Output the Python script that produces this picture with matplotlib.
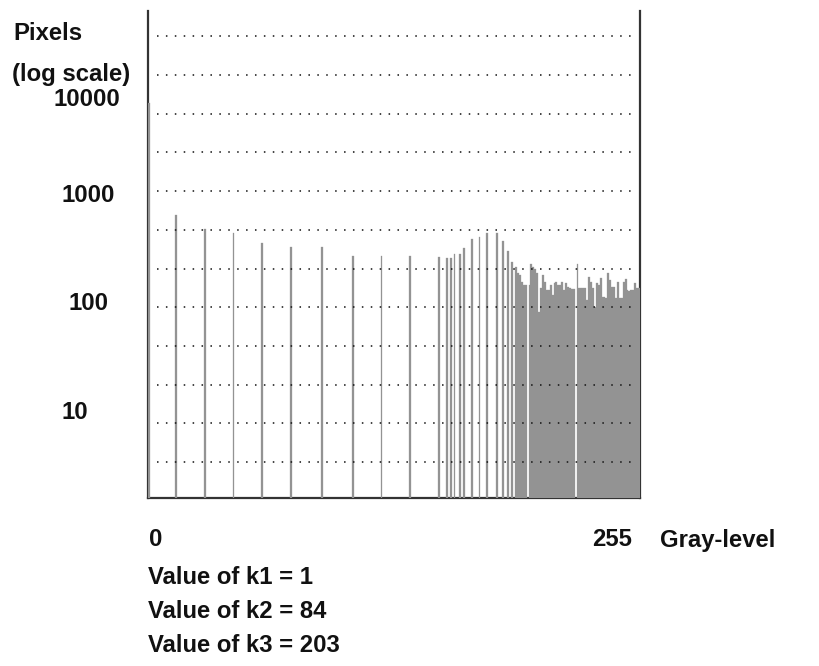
#!/usr/bin/env python3
"""
Gray-level histogram on a log scale with the k1/k2/k3 threshold values.
"""
import numpy as np
import matplotlib
matplotlib.use('Agg')
import matplotlib.pyplot as plt
from matplotlib.transforms import blended_transform_factory, offset_copy

# Isolated gray levels (quantised part of the image)
sparse_levels = [0, 14, 29, 44, 59, 74, 90, 106, 121, 136, 151,
                 155, 157, 159, 162, 164, 168, 172, 176, 181, 184, 187, 189, 191]
sparse_counts = [7440, 688, 511, 469, 379, 348, 348, 288, 288, 288, 282,
                 276, 276, 300, 300, 341, 413, 431, 469, 469, 395, 320, 253, 230]

# Continuous bright part, gray levels 192..255
dense_start = 192
dense_counts = [200, 192, 166, 155, 155, 0, 155, 243, 230, 218,
                200, 87, 146, 192, 166, 140, 140, 155, 126, 162,
                166, 155, 155, 166, 140, 162, 149, 146, 143, 143,
                0, 243, 146, 146, 146, 146, 113, 186, 166, 146,
                97, 162, 155, 180, 120, 120, 118, 200, 173, 149,
                149, 118, 166, 118, 118, 166, 177, 140, 137, 140,
                140, 162, 146, 146]

tick_values = [10, 100, 1000, 10000]
k_values = [1, 84, 203]

W, H = 820, 666
FONT = dict(family=['Liberation Sans', 'DejaVu Sans'], weight='bold', size=17.2, color='#111111')
BAR_COLOR = '#939393'
LINE_COLOR = '#333333'


def px(x, y):
    # pixel position -> figure fraction
    return x / W, 1 - y / H


def main():
    counts = np.zeros(256)
    counts[sparse_levels] = sparse_counts
    counts[dense_start:dense_start + len(dense_counts)] = dense_counts
    levels = np.arange(256)
    nz = counts > 0

    fig = plt.figure(figsize=(W / 100, H / 100), dpi=100)
    fig.patch.set_facecolor('white')
    ax = fig.add_axes([148 / W, (H - 498) / H, 492 / W, 487 / H])
    ax.set_yscale('log')
    ax.set_xlim(-0.5, 255.5)
    ax.set_ylim(1.68, 52600)

    ax.bar(levels[nz], counts[nz], width=1.0, color=BAR_COLOR,
           edgecolor=BAR_COLOR, linewidth=0.2, zorder=4)

    # dotted horizontal guides
    for k in range(12):
        f = (36 + 38.7 * k) / 487
        ax.plot([0.0173, 0.982], [f, f], transform=ax.transAxes,
                ls=(0, (1, 4.83)), lw=1.1, color='#111111', zorder=5)

    for side in ('left', 'right', 'bottom'):
        ax.spines[side].set_color(LINE_COLOR)
        ax.spines[side].set_linewidth(1.6)
        ax.spines[side].set_zorder(2)
    ax.spines['top'].set_visible(False)
    ax.tick_params(which='both', length=0, labelleft=False, labelbottom=False)
    ax.set_xticks([])
    ax.yaxis.set_minor_locator(matplotlib.ticker.NullLocator())
    ax.yaxis.set_major_locator(matplotlib.ticker.NullLocator())

    # decade labels; the top one is nudged down clear of the axis caption
    trans = blended_transform_factory(fig.transFigure, ax.transData)
    label_x = [74.5, 88.5, 88.5, 86.5]
    label_dy = [2, 2, 2, -10]
    for v, lx, dy in zip(tick_values, label_x, label_dy):
        t = offset_copy(trans, fig=fig, y=dy, units='dots')
        ax.text(lx / W, v, f'{v}', transform=t, ha='center', va='center',
                clip_on=False, **FONT)

    fig.text(*px(13, 33), 'Pixels', ha='left', va='center', **FONT)
    fig.text(*px(12, 75), '(log scale)', ha='left', va='center', **FONT)

    fig.text(*px(149, 540), '0', ha='left', va='center', **FONT)
    fig.text(*px(632, 540), '255', ha='right', va='center', **FONT)
    fig.text(*px(660, 540), 'Gray-level', ha='left', va='center', **FONT)

    for i, k in enumerate(k_values):
        fig.text(*px(148, 578 + 34 * i), f'Value of k{i + 1} = {k}',
                 ha='left', va='center', **FONT)

    fig.savefig('out.png', dpi=100, facecolor='white')


if __name__ == '__main__':
    main()
